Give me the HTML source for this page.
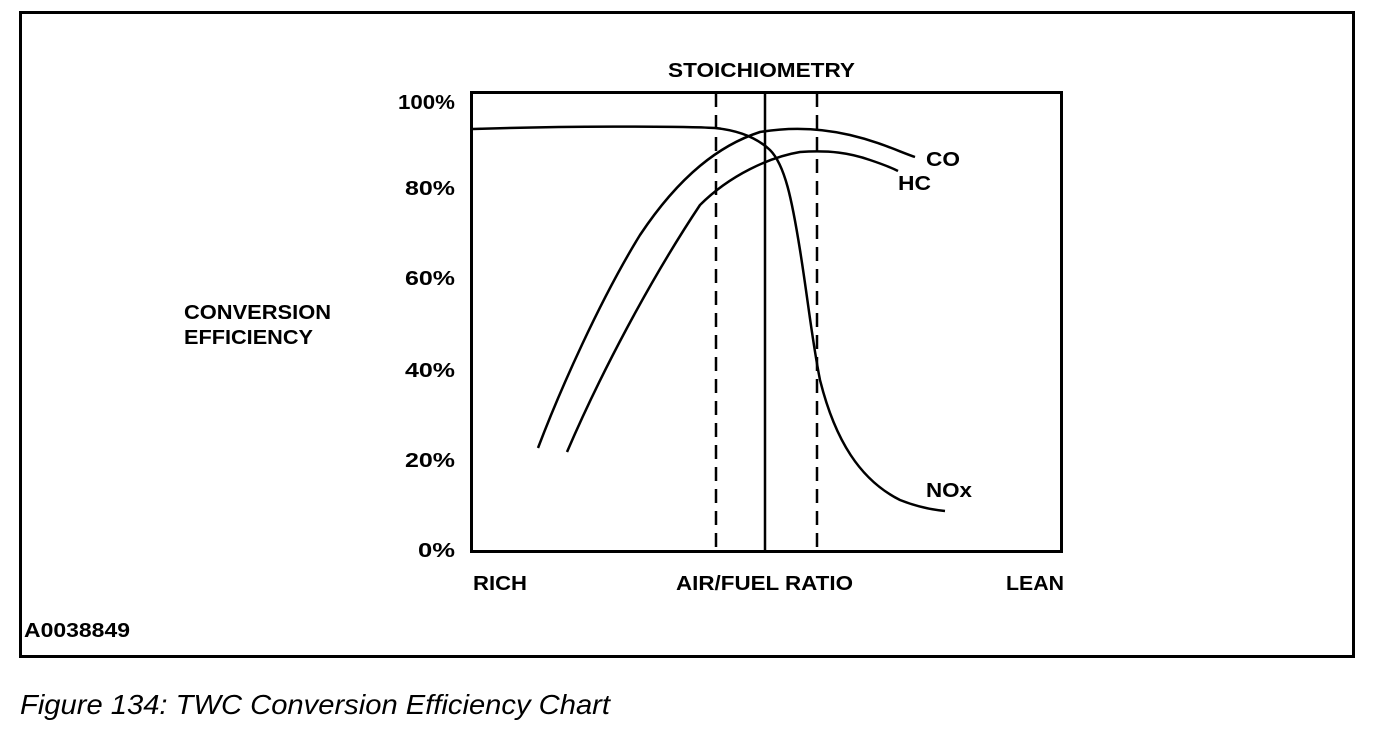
<!DOCTYPE html>
<html><head><style>
body{margin:0;background:#fff;}
svg{display:block}
text{font-family:"Liberation Sans",Arial,sans-serif;font-weight:bold;fill:#000}
</style></head><body>
<svg width="1392" height="736" viewBox="0 0 1392 736">
<rect x="20.5" y="12.5" width="1333" height="644" fill="none" stroke="#000" stroke-width="3"/>
<rect x="471.5" y="92.5" width="590" height="459" fill="none" stroke="#000" stroke-width="3"/>
<line x1="716" y1="93" x2="716" y2="552" stroke="#000" stroke-width="2.5" stroke-dasharray="14,8"/>
<line x1="817" y1="93" x2="817" y2="552" stroke="#000" stroke-width="2.5" stroke-dasharray="14,8"/>
<line x1="765" y1="93" x2="765" y2="552" stroke="#000" stroke-width="2.5"/>
<g fill="none" stroke="#000" stroke-width="2.5">
<path d="M473,129 C560,126 680,126 715,128 C735,130 755,136 770,150 C785,165 792,200 800,250 C808,300 812,340 820,380 C835,440 860,480 900,500 C920,508 935,510 945,511"/>
<path d="M538,448 C560,390 600,300 640,235 C680,175 720,145 760,132 C790,127 820,128 850,135 C880,142 900,152 915,157"/>
<path d="M567,452 C600,375 650,280 700,205 C730,175 770,157 800,152 C830,150 850,153 870,160 C885,165 892,168 898,171"/>
</g>
<g font-size="20" lengthAdjust="spacingAndGlyphs">
<text x="668" y="77" textLength="187" lengthAdjust="spacingAndGlyphs">STOICHIOMETRY</text>
<text x="398" y="109" textLength="57" lengthAdjust="spacingAndGlyphs">100%</text>
<text x="405" y="195" textLength="50" lengthAdjust="spacingAndGlyphs">80%</text>
<text x="405" y="285" textLength="50" lengthAdjust="spacingAndGlyphs">60%</text>
<text x="405" y="377" textLength="50" lengthAdjust="spacingAndGlyphs">40%</text>
<text x="405" y="467" textLength="50" lengthAdjust="spacingAndGlyphs">20%</text>
<text x="418" y="557" textLength="37" lengthAdjust="spacingAndGlyphs">0%</text>
<text x="184" y="319" textLength="147" lengthAdjust="spacingAndGlyphs">CONVERSION</text>
<text x="184" y="344" textLength="129" lengthAdjust="spacingAndGlyphs">EFFICIENCY</text>
<text x="926" y="166" textLength="34" lengthAdjust="spacingAndGlyphs">CO</text>
<text x="898" y="190" textLength="33" lengthAdjust="spacingAndGlyphs">HC</text>
<text x="926" y="497" textLength="46" lengthAdjust="spacingAndGlyphs">NOx</text>
<text x="473" y="590" textLength="54" lengthAdjust="spacingAndGlyphs">RICH</text>
<text x="676" y="590" textLength="177" lengthAdjust="spacingAndGlyphs">AIR/FUEL RATIO</text>
<text x="1006" y="590" textLength="58" lengthAdjust="spacingAndGlyphs">LEAN</text>
<text x="24" y="637" textLength="106" lengthAdjust="spacingAndGlyphs">A0038849</text>
</g>
<text x="20" y="714" font-size="28" style="font-weight:normal;font-style:italic" textLength="590" lengthAdjust="spacingAndGlyphs">Figure 134: TWC Conversion Efficiency Chart</text>
</svg>
</body></html>
